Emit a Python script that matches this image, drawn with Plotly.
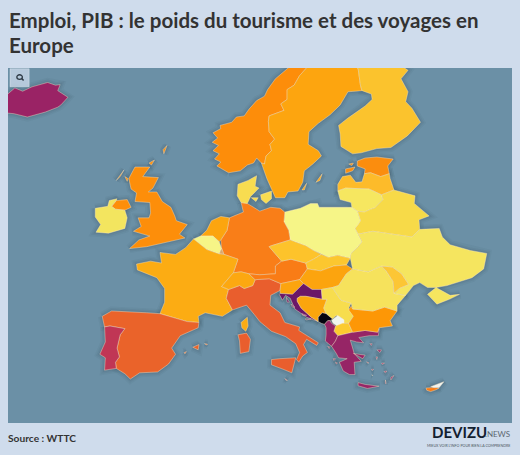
import numpy as np
import plotly.graph_objects as go

# outlines are (lon, lat) rings, one list per country
ICELAND = [[(-24.4, 65.5), (-23.6, 66.2), (-22.5, 66.45), (-22.9, 65.9), (-21.3, 65.5), (-20.4, 66.05), (-19.4, 65.75), (-18.2, 66.15), (-16.2, 66.55), (-15.2, 66.3), (-14.6, 66.35), (-14.9, 65.8), (-13.6, 65.2), (-14.5, 64.5), (-14.9, 64.3), (-16.5, 63.85), (-18.8, 63.4), (-20.5, 63.7), (-22.6, 63.85), (-22.0, 64.35), (-24.0, 64.9), (-22.2, 65.2), (-24.2, 65.45)]]
NORWAY = [[(7.0, 58.0), (6.2, 58.4), (5.5, 58.7), (6.0, 59.1), (5.2, 59.4), (5.8, 59.9), (5.0, 60.2), (5.7, 60.7), (4.9, 61.0), (5.6, 61.4), (5.0, 61.9), (6.0, 62.3), (5.9, 62.6), (7.4, 62.9), (8.0, 63.4), (9.0, 63.5), (9.6, 64.1), (10.6, 64.9), (11.6, 65.3), (12.0, 65.9), (13.0, 66.9), (14.6, 67.9), (15.5, 68.5), (17.0, 69.2), (19.0, 70.0), (22.0, 70.6), (25.5, 71.1), (28.0, 71.1), (31.0, 70.3), (29.5, 69.7), (28.5, 69.0), (26.0, 69.9), (24.9, 68.6), (20.5, 69.05), (18.1, 68.5), (17.2, 68.1), (16.1, 67.2), (15.4, 66.3), (14.5, 65.9), (14.5, 65.0), (13.7, 64.6), (14.1, 64.0), (12.2, 63.5), (12.1, 63.0), (12.2, 62.0), (12.9, 61.3), (12.3, 60.8), (12.5, 60.2), (11.8, 59.7), (11.6, 58.9), (11.2, 59.0), (10.6, 59.5), (10.2, 59.0), (9.4, 58.8), (8.5, 58.2)]]
SWEDEN = [[(20.5, 69.05), (23.6, 67.9), (23.9, 66.3), (24.1, 65.8), (22.3, 65.7), (21.3, 64.5), (20.0, 63.6), (18.5, 62.8), (17.3, 62.0), (17.2, 60.8), (18.5, 60.2), (18.9, 59.7), (17.8, 58.9), (16.7, 58.2), (16.5, 57.0), (15.9, 56.1), (14.6, 56.0), (14.2, 55.4), (13.0, 55.4), (12.5, 56.3), (11.9, 57.4), (11.2, 59.0), (11.6, 58.9), (11.8, 59.7), (12.5, 60.2), (12.3, 60.8), (12.9, 61.3), (12.2, 62.0), (12.1, 63.0), (12.2, 63.5), (14.1, 64.0), (13.7, 64.6), (14.5, 65.0), (14.5, 65.9), (15.4, 66.3), (16.1, 67.2), (17.2, 68.1), (18.1, 68.5)],
          [(18.2, 57.0), (19.0, 57.9), (18.7, 57.2)], [(16.4, 56.2), (17.0, 56.9), (16.7, 56.2)]]
FINLAND = [[(20.5, 69.05), (21.5, 69.3), (24.0, 68.7), (25.7, 69.9), (27.0, 70.1), (28.5, 69.0), (28.4, 68.5), (30.0, 67.7), (29.1, 66.9), (30.0, 65.7), (29.7, 64.8), (30.5, 64.2), (31.6, 62.9), (29.9, 61.6), (27.8, 60.5), (26.0, 60.4), (24.0, 60.0), (22.9, 59.9), (21.4, 60.6), (21.3, 61.8), (21.1, 62.6), (22.3, 63.3), (24.5, 64.4), (25.4, 65.0), (25.3, 65.5), (24.1, 65.8), (23.9, 66.3), (23.6, 67.9)]]
ESTONIA = [[(23.5, 59.2), (24.5, 59.5), (26.0, 59.6), (28.1, 59.4), (27.4, 58.7), (27.6, 57.9), (26.5, 57.6), (25.2, 58.0), (24.4, 57.9), (24.5, 58.4), (23.5, 58.7)],
           [(22.0, 58.4), (23.2, 58.6), (22.9, 58.2), (22.0, 57.95)], [(22.4, 58.9), (23.0, 59.0), (22.8, 58.75)]]
LATVIA = [[(21.0, 56.8), (21.6, 57.6), (22.6, 57.75), (23.3, 57.0), (24.1, 57.05), (24.4, 57.9), (25.2, 58.0), (26.5, 57.6), (27.6, 57.9), (27.7, 57.4), (28.2, 56.2), (26.6, 55.7), (25.0, 56.3), (22.0, 56.4), (21.0, 56.1)]]
LITHUANIA = [[(21.0, 56.1), (22.0, 56.4), (25.0, 56.3), (26.6, 55.7), (26.8, 55.2), (25.7, 54.3), (25.5, 54.3), (24.4, 53.9), (23.5, 54.0), (22.8, 54.4), (22.7, 54.9), (21.3, 55.2)]]
BELARUS = [[(23.2, 52.2), (23.6, 52.6), (23.9, 53.0), (23.5, 54.0), (24.4, 53.9), (25.5, 54.3), (25.7, 54.3), (26.8, 55.2), (26.6, 55.7), (28.2, 56.2), (30.9, 55.6), (30.8, 54.8), (32.7, 53.5), (31.4, 53.1), (31.5, 52.1), (30.5, 51.3), (25.5, 51.9), (23.6, 51.6)]]
POLAND = [[(14.2, 53.9), (16.2, 54.3), (17.5, 54.8), (18.4, 54.8), (18.6, 54.4), (19.6, 54.4), (22.8, 54.4), (23.5, 54.0), (23.9, 53.0), (23.6, 52.6), (23.2, 52.2), (23.6, 51.6), (24.1, 50.8), (23.6, 50.3), (22.7, 49.6), (22.6, 49.1), (21.0, 49.4), (19.8, 49.2), (18.9, 49.5), (17.9, 49.9), (16.9, 50.4), (16.2, 50.6), (14.9, 51.0), (14.7, 52.0), (14.1, 52.9)]]
GERMANY = [[(8.6, 54.9), (9.4, 54.8), (10.0, 54.5), (11.0, 54.0), (12.4, 54.4), (13.6, 54.3), (14.2, 53.9), (14.1, 52.9), (14.7, 52.0), (14.9, 51.0), (12.5, 50.4), (12.2, 50.3), (13.8, 48.8), (13.0, 48.3), (13.0, 47.5), (11.0, 47.4), (9.6, 47.5), (8.6, 47.7), (7.6, 47.6), (8.2, 49.0), (6.4, 49.5), (6.1, 50.1), (6.0, 51.0), (6.8, 52.0), (7.1, 53.3), (8.1, 53.6), (8.9, 53.9)]]
NETHERLANDS = [[(3.4, 51.4), (4.2, 52.0), (4.8, 53.0), (6.0, 53.45), (7.1, 53.3), (6.8, 52.0), (6.0, 51.0), (5.8, 50.8), (5.0, 51.4), (4.0, 51.4)]]
BELGIUM = [[(2.5, 51.1), (3.4, 51.4), (4.0, 51.4), (5.0, 51.4), (5.8, 50.8), (6.1, 50.1), (5.8, 49.55), (4.9, 49.8), (4.2, 50.0), (3.1, 50.7)]]
LUXEMBOURG = [[(5.8, 49.55), (6.1, 50.15), (6.4, 49.5)]]
FRANCE = [[(2.5, 51.1), (3.1, 50.7), (4.2, 50.0), (4.9, 49.8), (5.8, 49.55), (6.4, 49.5), (8.2, 49.0), (7.6, 47.6), (6.1, 46.2), (7.0, 45.9), (6.7, 45.0), (7.5, 43.8), (6.2, 43.1), (4.0, 43.5), (3.1, 43.1), (3.2, 42.4), (1.7, 42.5), (-1.8, 43.4), (-1.2, 44.6), (-1.2, 46.0), (-2.2, 47.1), (-4.7, 47.9), (-4.8, 48.5), (-3.0, 48.8), (-1.6, 48.6), (-1.8, 49.7), (0.2, 49.5), (1.5, 50.2)],
          [(8.6, 42.4), (9.4, 43.0), (9.5, 42.0), (9.2, 41.4), (8.7, 41.8)]]
SWITZERLAND = [[(6.1, 46.2), (7.6, 47.6), (8.6, 47.7), (9.6, 47.5), (10.4, 46.9), (10.1, 46.3), (9.0, 46.0), (8.4, 46.3), (7.0, 45.9)]]
ITALY = [[(6.7, 45.0), (7.0, 45.9), (8.4, 46.3), (9.0, 46.0), (10.1, 46.3), (10.4, 46.9), (12.2, 47.0), (13.7, 46.5), (13.6, 45.8), (12.4, 45.3), (12.3, 44.3), (13.6, 43.5), (14.2, 42.4), (16.1, 41.9), (16.0, 41.5), (18.5, 40.1), (18.3, 39.8), (17.0, 40.5), (16.6, 39.9), (17.1, 39.0), (16.5, 38.6), (16.0, 37.9), (15.7, 38.2), (16.1, 39.0), (15.6, 40.0), (14.3, 40.8), (12.5, 41.4), (11.0, 42.5), (10.3, 43.3), (9.3, 44.3), (8.2, 44.0), (7.5, 43.8)],
         [(12.5, 38.2), (13.5, 38.3), (15.6, 38.4), (15.2, 37.2), (15.1, 36.7), (14.0, 37.1), (12.5, 37.6)],
         [(8.2, 41.0), (9.3, 41.2), (9.8, 40.5), (9.6, 39.1), (8.5, 38.9), (8.4, 40.3)]]
SPAIN = [[(-9.2, 43.1), (-8.0, 43.7), (-3.5, 43.5), (-1.8, 43.4), (1.7, 42.5), (3.2, 42.4), (3.1, 41.8), (0.8, 40.9), (-0.3, 39.5), (0.2, 38.8), (-0.7, 37.7), (-2.1, 36.8), (-4.4, 36.7), (-5.6, 36.0), (-6.3, 36.6), (-7.4, 37.2), (-7.5, 37.9), (-7.0, 38.5), (-7.3, 39.5), (-6.9, 41.0), (-6.3, 41.7), (-8.2, 42.0), (-8.9, 41.9)],
         [(2.4, 39.6), (3.2, 39.9), (3.1, 39.3)], [(3.9, 40.0), (4.3, 39.95), (4.2, 39.85)], [(1.3, 39.0), (1.6, 39.1), (1.4, 38.85)]]
PORTUGAL = [[(-8.9, 41.9), (-8.2, 42.0), (-6.3, 41.7), (-6.9, 41.0), (-7.3, 39.5), (-7.0, 38.5), (-7.5, 37.9), (-7.4, 37.2), (-8.9, 37.0), (-8.8, 38.4), (-9.5, 38.8), (-8.8, 40.2)]]
UK = [[(-5.7, 50.1), (-3.5, 50.3), (-1.3, 50.7), (1.4, 51.2), (0.7, 51.6), (1.7, 52.6), (0.3, 53.0), (0.1, 53.5), (-0.4, 54.4), (-1.5, 55.0), (-2.2, 56.0), (-3.3, 56.0), (-2.7, 56.4), (-2.0, 57.5), (-4.0, 57.6), (-3.1, 58.6), (-5.0, 58.6), (-5.8, 57.4), (-5.5, 56.3), (-4.8, 55.9), (-5.0, 55.0), (-3.1, 54.9), (-3.0, 53.8), (-3.2, 53.3), (-4.6, 53.3), (-4.2, 52.4), (-5.2, 51.9), (-3.1, 51.4), (-4.5, 51.0)],
      [(-8.0, 54.5), (-7.4, 55.1), (-6.0, 55.2), (-5.5, 54.4), (-6.3, 54.1), (-7.5, 54.2)],
      [(-7.4, 57.2), (-6.4, 58.3), (-6.9, 57.6)], [(-6.3, 57.6), (-5.9, 57.4), (-6.0, 57.1)], [(-1.3, 59.9), (-0.9, 60.7), (-1.4, 60.3)], [(-3.2, 59.0), (-2.5, 59.3), (-2.9, 58.8)]]
IRELAND = [[(-10.1, 54.3), (-8.5, 54.5), (-8.3, 55.1), (-7.3, 55.3), (-7.4, 55.1), (-8.0, 54.5), (-7.5, 54.2), (-6.3, 54.1), (-6.0, 53.3), (-6.3, 52.2), (-8.4, 51.7), (-10.0, 51.8), (-9.4, 52.6), (-10.1, 53.4)]]
DENMARK = [[(8.6, 54.9), (8.1, 55.6), (8.2, 56.8), (9.5, 57.2), (10.6, 57.7), (10.4, 56.6), (10.9, 56.4), (9.8, 55.5), (9.4, 54.8)],
           [(11.1, 55.7), (12.5, 56.1), (12.5, 55.3), (11.8, 54.8), (11.2, 55.2)], [(9.9, 55.4), (10.8, 55.4), (10.5, 55.0)]]
UKRAINE = [[(23.6, 51.6), (25.5, 51.9), (30.5, 51.3), (31.5, 52.1), (34.0, 52.2), (34.4, 51.3), (35.4, 50.5), (38.0, 49.9), (40.1, 49.6), (39.7, 48.0), (38.2, 47.1), (35.0, 46.3), (33.6, 46.1), (32.5, 46.1), (31.5, 46.6), (30.7, 46.3), (29.7, 45.3), (28.2, 45.5), (28.9, 46.0), (30.1, 46.4), (29.2, 47.5), (28.0, 48.2), (26.6, 48.3), (24.9, 47.7), (22.9, 48.0), (22.6, 49.1), (22.7, 49.6), (23.6, 50.3), (24.1, 50.8)],
           [(33.6, 46.1), (35.4, 45.3), (36.6, 45.4), (35.3, 44.9), (33.7, 44.4), (32.5, 45.4)]]
MOLDOVA = [[(26.6, 48.3), (28.0, 48.2), (29.2, 47.5), (30.1, 46.4), (28.9, 46.0), (28.2, 45.5), (28.1, 46.7), (27.2, 47.8)]]
ROMANIA = [[(22.9, 48.0), (24.9, 47.7), (26.6, 48.3), (27.2, 47.8), (28.1, 46.7), (28.2, 45.5), (29.7, 45.3), (28.6, 44.3), (28.6, 43.7), (27.0, 44.1), (25.5, 43.7), (22.9, 43.9), (22.7, 44.5), (21.4, 44.8), (20.3, 46.1), (21.1, 46.3), (22.1, 47.5)]]
BULGARIA = [[(22.7, 44.2), (22.9, 43.9), (25.5, 43.7), (27.0, 44.1), (28.6, 43.7), (27.7, 42.6), (28.0, 42.0), (26.3, 41.8), (26.1, 41.3), (24.5, 41.5), (22.9, 41.3), (22.4, 42.3), (23.0, 43.1), (22.4, 43.8)]]
SERBIA = [[(18.9, 45.9), (20.3, 46.1), (21.4, 44.8), (22.7, 44.5), (22.4, 44.0), (23.0, 43.1), (22.4, 42.3), (21.6, 42.3), (21.5, 42.9), (20.8, 43.2), (20.3, 42.8), (19.5, 43.4), (19.2, 44.0), (19.6, 44.9), (19.0, 44.9)]]
KOSOVO = [[(20.2, 42.6), (20.4, 42.8), (21.0, 43.2), (21.8, 42.7), (21.8, 42.3), (20.9, 42.0), (20.4, 42.3)]]
MACEDONIA = [[(20.7, 42.0), (21.6, 42.3), (22.4, 42.3), (22.9, 41.3), (21.0, 40.9), (20.5, 41.4)]]
ALBANIA = [[(19.3, 42.2), (19.7, 42.6), (20.0, 42.6), (20.2, 42.3), (20.7, 42.0), (20.5, 41.4), (21.0, 40.9), (20.7, 40.3), (20.2, 39.7), (19.4, 40.3), (19.5, 41.0), (19.5, 41.8)]]
MONTENEGRO = [[(18.5, 42.5), (18.5, 43.0), (19.0, 43.5), (19.5, 43.4), (20.3, 42.8), (20.0, 42.6), (19.7, 42.6), (19.3, 42.2), (18.9, 42.3)]]
BOSNIA = [[(15.8, 45.0), (16.2, 45.2), (16.9, 45.2), (19.0, 44.9), (19.6, 44.9), (19.2, 44.0), (19.5, 43.4), (19.0, 43.5), (18.5, 43.0), (18.5, 42.5), (17.6, 43.0), (16.3, 44.0), (15.8, 44.7)]]
CROATIA = [[(13.6, 45.5), (15.2, 45.4), (15.7, 45.8), (16.6, 46.5), (17.7, 45.9), (18.9, 45.9), (19.0, 44.9), (16.9, 45.2), (16.2, 45.2), (15.8, 45.0), (15.8, 44.7), (16.3, 44.0), (17.6, 43.0), (18.5, 42.5), (17.0, 43.0), (15.5, 43.9), (14.9, 45.0), (14.3, 45.3), (13.9, 44.8), (13.5, 45.4)],
           [(14.4, 45.1), (14.8, 44.6), (14.5, 44.6)], [(15.0, 44.4), (15.5, 44.1), (15.2, 44.1)], [(16.4, 43.4), (17.0, 43.2), (16.5, 43.2)], [(16.8, 42.8), (17.6, 42.8), (17.0, 42.7)]]
SLOVENIA = [[(13.6, 45.8), (13.7, 46.5), (16.1, 46.9), (16.6, 46.5), (15.7, 45.8), (15.2, 45.4), (13.6, 45.5)]]
AUSTRIA = [[(9.6, 47.5), (11.0, 47.4), (13.0, 47.5), (13.0, 48.3), (13.8, 48.8), (15.0, 49.0), (16.9, 48.6), (17.1, 48.0), (16.1, 46.9), (13.7, 46.5), (12.2, 47.0), (10.4, 46.9)]]
CZECHIA = [[(12.2, 50.3), (12.5, 50.4), (14.9, 51.0), (16.2, 50.6), (16.9, 50.4), (17.9, 49.9), (18.9, 49.5), (17.9, 49.0), (16.9, 48.6), (15.0, 49.0), (13.8, 48.8)]]
SLOVAKIA = [[(16.9, 48.6), (17.9, 49.0), (18.9, 49.5), (19.8, 49.2), (21.0, 49.4), (22.6, 49.1), (22.1, 48.4), (20.5, 48.3), (18.8, 47.8), (17.1, 48.0)]]
HUNGARY = [[(16.1, 46.9), (17.1, 48.0), (18.8, 47.8), (20.5, 48.3), (22.1, 48.4), (22.9, 48.0), (22.1, 47.5), (21.1, 46.3), (20.3, 46.1), (18.9, 45.9), (17.7, 45.9), (16.6, 46.5)]]
GREECE = [[(20.2, 39.7), (20.7, 40.3), (21.0, 40.9), (22.9, 41.3), (24.5, 41.5), (26.1, 41.3), (26.3, 41.7), (26.2, 40.9), (25.0, 40.9), (23.7, 40.7), (24.3, 40.1), (23.4, 40.2), (22.6, 40.4), (22.9, 39.3), (23.1, 38.9), (24.0, 38.0), (23.1, 37.9), (23.2, 36.5), (22.5, 36.5), (21.7, 36.9), (21.2, 37.9), (22.2, 38.3), (21.1, 38.4), (20.8, 38.9)],
          [(23.6, 35.6), (24.5, 35.4), (26.3, 35.2), (24.8, 34.95), (23.6, 35.25)],
          [(26.0, 39.3), (26.6, 39.3), (26.4, 39.0)], [(27.8, 36.2), (28.2, 36.4), (27.8, 35.9)], [(25.9, 38.5), (26.1, 38.5), (26.0, 38.2)],
          [(26.6, 37.8), (27.0, 37.8), (26.7, 37.65)], [(23.0, 38.9), (24.5, 38.7), (24.2, 38.3)], [(25.3, 37.1), (25.6, 37.1), (25.4, 36.95)],
          [(19.7, 39.7), (20.0, 39.6), (19.9, 39.45)], [(20.4, 38.3), (20.7, 38.3), (20.5, 38.1)], [(20.7, 37.9), (20.95, 37.8), (20.8, 37.7)],
          [(25.1, 40.0), (25.4, 40.0), (25.3, 39.8)], [(26.9, 36.85), (27.3, 36.9), (27.1, 36.7)], [(27.1, 35.9), (27.2, 35.5), (27.1, 35.5)],
          [(24.7, 37.95), (25.0, 37.8), (24.8, 37.8)], [(25.35, 36.45), (25.5, 36.4), (25.4, 36.35)]]
CYPRUS = [[(32.3, 35.0), (33.3, 35.05), (34.0, 35.0), (33.6, 34.8), (32.9, 34.6), (32.4, 34.75)]]
NORTH_CYPRUS = [[(32.9, 35.15), (33.7, 35.4), (34.6, 35.7), (34.0, 35.05), (33.3, 35.05)]]
MALTA = [[(14.2, 36.05), (14.55, 35.85), (14.35, 35.85)]]

# name, outline, fill colour
COUNTRIES = [
    ("Islande", ICELAND, "#9a2365"), ("Norvège", NORWAY, "#fd8d0a"), ("Suède", SWEDEN, "#fda50f"),
    ("Finlande", FINLAND, "#fbc32d"), ("Estonie", ESTONIA, "#fb8d0e"), ("Lettonie", LATVIA, "#fdbb2a"),
    ("Lituanie", LITHUANIA, "#f6e760"), ("Biélorussie", BELARUS, "#f7da48"), ("Pologne", POLAND, "#f6f587"),
    ("Allemagne", GERMANY, "#f97e18"), ("Danemark", DENMARK, "#f8dc50"), ("Pays-Bas", NETHERLANDS, "#fca50f"),
    ("Belgique", BELGIUM, "#f6f587"), ("Luxembourg", LUXEMBOURG, "#d9a66a"), ("France", FRANCE, "#fcac13"),
    ("Espagne", SPAIN, "#ea632a"), ("Portugal", PORTUGAL, "#c03655"), ("Royaume-Uni", UK, "#fd8e0a"),
    ("Irlande", IRELAND, "#f3e55f"), ("Italie", ITALY, "#e95e2d"), ("Suisse", SWITZERLAND, "#fca811"),
    ("Autriche", AUSTRIA, "#f97c16"), ("Tchéquie", CZECHIA, "#fdc32b"), ("Slovaquie", SLOVAKIA, "#fcc72f"),
    ("Hongrie", HUNGARY, "#fca40e"), ("Slovénie", SLOVENIA, "#fca40e"), ("Croatie", CROATIA, "#6b1768"),
    ("Bosnie", BOSNIA, "#fba50d"), ("Serbie", SERBIA, "#f7dd4e"), ("Monténégro", MONTENEGRO, "#04030f"),
    ("Kosovo", KOSOVO, "#f0f5ee"), ("Macédoine du Nord", MACEDONIA, "#fbcb2f"), ("Albanie", ALBANIA, "#952465"),
    ("Grèce", GREECE, "#962566"), ("Bulgarie", BULGARIA, "#fd9706"), ("Roumanie", ROMANIA, "#f6e25c"),
    ("Moldavie", MOLDOVA, "#fcc635"), ("Ukraine", UKRAINE, "#f5e55f"), ("Chypre", CYPRUS, "#f87c15"),
    ("Chypre du Nord", NORTH_CYPRUS, "#f3f4ee"), ("Malte", MALTA, "#a0487a"),
]

TITLE_LINES = ["Emploi, PIB : le poids du tourisme et des voyages en", "Europe"]
SOURCE = "Source : WTTC"
BG = "#cfdcec"
SEA = "#6b90a6"

# the map stretches a little unevenly with latitude
LAT_KNOTS = [34.0, 35.0, 36.0, 43.7, 48.4, 51.2, 58.6, 59.6, 63.4, 66.5, 72.0]
MAP_Y_KNOTS = [397, 388, 379, 311, 265, 238, 167, 157, 117, 83, 25]


def ring_xy(rings):
    xs, ys = [], []
    for ring in rings:
        closed = ring + ring[:1]
        xs += [p[0] for p in closed] + [None]
        ys += [float(np.interp(p[1], LAT_KNOTS, MAP_Y_KNOTS)) for p in closed] + [None]
    return xs, ys


fig = go.Figure()

# soft shadow under all the land
all_x, all_y = [], []
for _, rings, _ in COUNTRIES:
    x, y = ring_xy(rings)
    all_x += x
    all_y += y
for width, alpha in [(9, 0.04), (6, 0.05), (3, 0.07)]:
    fig.add_trace(go.Scatter(x=all_x, y=all_y, mode="lines", hoverinfo="skip",
                             line=dict(color=f"rgba(30,40,50,{alpha})", width=width)))

for name, rings, color in COUNTRIES:
    x, y = ring_xy(rings)
    fig.add_trace(go.Scatter(x=x, y=y, mode="lines", fill="toself", fillcolor=color, name=name,
                             line=dict(color="rgba(255,235,200,0.55)", width=0.7), hoveron="fills"))

fig.update_xaxes(range=[-21.28, 43.33], visible=False)
fig.update_yaxes(range=[423, 68], visible=False)

# search button, top left of the map
fig.add_shape(type="rect", xref="paper", yref="paper", x0=0.004, x1=0.042, y0=0.947, y1=0.998,
              fillcolor="rgba(207,220,236,0.75)", line=dict(color="rgba(255,255,255,0.3)", width=1))
fig.add_shape(type="circle", xref="paper", yref="paper", x0=0.0175, x1=0.0285, y0=0.968, y1=0.981,
              line=dict(color="#2f3b46", width=1.3))
fig.add_shape(type="line", xref="paper", yref="paper", x0=0.0275, x1=0.031, y0=0.970, y1=0.965,
              line=dict(color="#2f3b46", width=1.5))

for line, y in zip(TITLE_LINES, [1.135, 1.066]):
    fig.add_annotation(text=f"<b>{line}</b>", xref="paper", yref="paper", x=0, y=y, xanchor="left", yanchor="middle",
                       xshift=-1, showarrow=False, font=dict(family="Lato", size=20.5, color="#333333"))

fig.add_annotation(text=f"<b>{SOURCE}</b>", xref="paper", yref="paper", x=0, y=-0.043, xanchor="left", yanchor="middle",
                   xshift=-2, showarrow=False, font=dict(family="Lato", size=10.2, color="#333333"))
fig.add_annotation(text="<b>DEVIZU</b>", xref="paper", yref="paper", x=0.955, y=-0.025, xanchor="right", yanchor="middle",
                   showarrow=False, font=dict(family="Lato", size=15, color="#12202f"))
fig.add_annotation(text=".NEWS", xref="paper", yref="paper", x=1, y=-0.031, xanchor="right", yanchor="middle",
                   showarrow=False, font=dict(family="Lato", size=8, color="#5c6670"))
fig.add_annotation(text="MIEUX VOIR L'INFO POUR BIEN LA COMPRENDRE", xref="paper", yref="paper", x=1, y=-0.063,
                   xanchor="right", yanchor="middle", showarrow=False, font=dict(family="Lato", size=3.6, color="#4c5560"))

fig.update_layout(
    width=520, height=455, showlegend=False,
    margin=dict(l=8, r=8, t=68, b=32),
    paper_bgcolor=BG, plot_bgcolor=SEA,
)

fig.write_html("out.html", config={"displayModeBar": False},
               post_script="document.body.style.margin='0';document.body.style.overflow='hidden';")
